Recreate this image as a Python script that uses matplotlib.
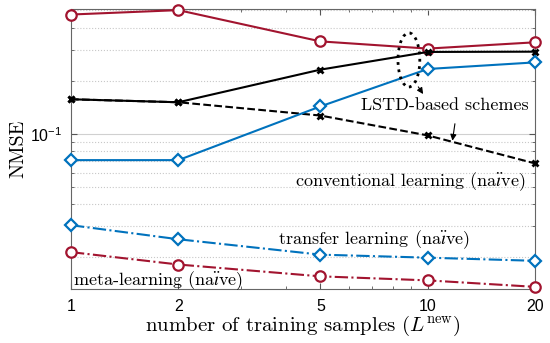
import matplotlib.pyplot as plt
from matplotlib.patches import Ellipse
from matplotlib.ticker import NullFormatter

plt.rcParams["font.family"] = ["Liberation Sans", "DejaVu Sans"]
plt.rcParams["mathtext.fontset"] = "cm"
SERIF = ["cmr10", "DejaVu Serif"]
NAIVE = r'na$\"{\i}$ve'

# values
samples = [1, 2, 5, 10, 20]
meta_lstd = [0.474, 0.502, 0.334, 0.304, 0.330]
conv_lstd = [0.157, 0.151, 0.231, 0.291, 0.292]
conv_naive = [0.157, 0.151, 0.127, 0.098, 0.068]
transfer_lstd = [0.071, 0.071, 0.143, 0.233, 0.254]
transfer_naive = [0.0304, 0.0253, 0.0207, 0.0199, 0.0191]
meta_naive = [0.0214, 0.0182, 0.0156, 0.0148, 0.0136]
xtick_labels = ["1", "2", "5", "10", "20"]

red = "#A2142F"
blue = "#0072BD"

fig = plt.figure(figsize=(5.5, 3.43), dpi=100)
ax = fig.add_axes([0.129, 0.157, 0.844, 0.817])
ax.set_xscale("log")
ax.set_yscale("log")

kw = dict(lw=1.5, clip_on=False, zorder=3)
ax.plot(samples, meta_lstd, "-", color=red, marker="o", ms=7.5, mfc="white", mew=1.6, **kw)
ax.plot(samples, conv_lstd, "-", color="k", marker="x", ms=5, mew=2, **kw)
ax.plot(samples, conv_naive, "--", color="k", marker="x", ms=5, mew=2, **kw)
ax.plot(samples, transfer_lstd, "-", color=blue, marker="D", ms=6.5, mfc="white", mew=1.6, **kw)
ax.plot(samples, transfer_naive, "-.", color=blue, marker="D", ms=6.5, mfc="white", mew=1.6, **kw)
ax.plot(samples, meta_naive, "-.", color=red, marker="o", ms=7.5, mfc="white", mew=1.6, **kw)

ax.set_xlim(1, 20)
ax.set_ylim(0.0132, 0.51)
ax.set_xticks(samples)
ax.set_xticklabels(xtick_labels)
ax.yaxis.set_minor_formatter(NullFormatter())
ax.xaxis.set_minor_formatter(NullFormatter())
ax.tick_params(which="both", direction="in", top=True, right=True, labelsize=11.5,
               color="#555555")
ax.tick_params(axis="x", pad=7)
ax.tick_params(axis="y", pad=6)
ax.tick_params(which="major", length=4)
ax.tick_params(which="minor", length=2)
ax.yaxis.grid(True, which="major", color="#d0d0d0", lw=0.8)
ax.yaxis.grid(True, which="minor", color="#c8c8c8", ls=":", lw=0.8)
for s in ax.spines.values():
    s.set_color("#666666")
    s.set_linewidth(0.8)

ax.set_xlabel(r"number of training samples ($L^{\mathrm{new}}$)", family=SERIF,
              fontsize=15, labelpad=0)
ax.set_ylabel("NMSE", family=SERIF, fontsize=14.5, labelpad=2)

ax.add_patch(Ellipse((0.728, 0.818), 0.047, 0.193, transform=ax.transAxes,
                     fill=False, ls=":", lw=2, color="k", zorder=4))
ax.annotate("", xy=(0.762, 0.688), xytext=(0.745, 0.73), xycoords="axes fraction",
            arrowprops=dict(arrowstyle="-|>", lw=0.8, color="k", mutation_scale=9))
ax.annotate("", xy=(0.821, 0.52), xytext=(0.828, 0.6), xycoords="axes fraction",
            arrowprops=dict(arrowstyle="-|>", lw=0.8, color="k", mutation_scale=9))

tkw = dict(transform=ax.transAxes, family=SERIF, fontsize=13, ha="center", va="center", zorder=5)
ax.text(0.805, 0.657, "LSTD-based schemes", **tkw)
ax.text(0.731, 0.382, f"conventional learning ({NAIVE})", **tkw)
ax.text(0.652, 0.175, f"transfer learning ({NAIVE})", **tkw)
ax.text(0.1875, 0.032, f"meta-learning ({NAIVE})", **tkw)

fig.savefig("out.png", dpi=100)
